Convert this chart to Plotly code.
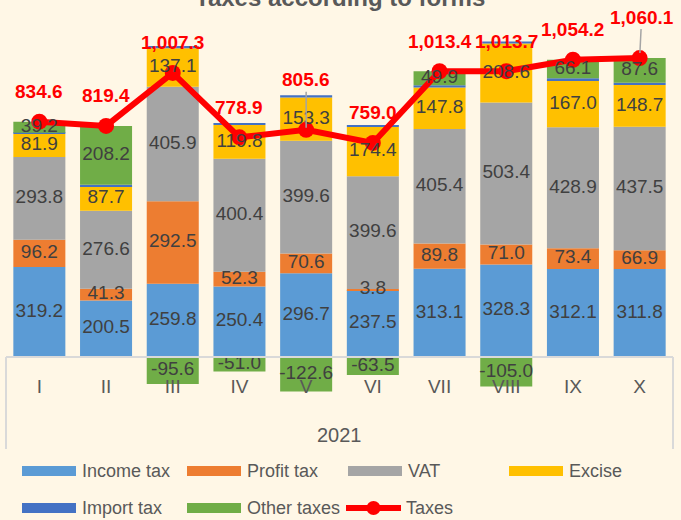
import plotly.graph_objects as go

months = ["I", "II", "III", "IV", "V", "VI", "VII", "VIII", "IX", "X"]
year = "2021"
income_tax = [319.2, 200.5, 259.8, 250.4, 296.7, 237.5, 313.1, 328.3, 312.1, 311.8]
profit_tax = [96.2, 41.3, 292.5, 52.3, 70.6, 3.8, 89.8, 71.0, 73.4, 66.9]
vat = [293.8, 276.6, 405.9, 400.4, 399.6, 399.6, 405.4, 503.4, 428.9, 437.5]
excise = [81.9, 87.7, 137.1, 119.8, 153.3, 174.4, 147.8, 208.6, 167.0, 148.7]
import_tax = [4.3, 5.1, 7.6, 7.0, 8.0, 7.2, 7.4, 7.4, 6.7, 7.6]
other_taxes = [39.2, 208.2, -95.6, -51.0, -122.6, -63.5, 49.9, -105.0, 66.1, 87.6]
taxes = [834.6, 819.4, 1007.3, 778.9, 805.6, 759.0, 1013.4, 1013.7, 1054.2, 1060.1]

BG = "#FFF7E6"
FONT = "Liberation Sans, Arial, sans-serif"
TXT = "#404040"
AXC = "#D9D9D9"

series = [
    ("Income tax", income_tax, "#5B9BD5", True),
    ("Profit tax", profit_tax, "#ED7D31", True),
    ("VAT", vat, "#A5A5A5", True),
    ("Excise", excise, "#FFC000", True),
    ("Import tax", import_tax, "#4472C4", False),
    ("Other taxes", other_taxes, "#70AD47", True),
]

fig = go.Figure()
for name, vals, col, lab in series:
    fig.add_trace(go.Bar(
        x=months, y=vals, name=name, marker=dict(color=col, line=dict(width=0)),
        showlegend=False, cliponaxis=False, hoverinfo="x+y+name",
    ))

fig.add_trace(go.Scatter(
    x=months, y=taxes, name="Taxes", mode="lines+markers",
    line=dict(color="#FF0000", width=6),
    marker=dict(color="#FF0000", size=16),
    showlegend=False, cliponaxis=False,
))

# segment labels (centred in each stacked segment, drawn above everything)
lab_x, lab_y, lab_t = [], [], []
pos_base = [0.0] * len(months)
neg_base = [0.0] * len(months)
for name, vals, col, lab in series:
    for i, v in enumerate(vals):
        if v >= 0:
            mid = pos_base[i] + v / 2
            pos_base[i] += v
        else:
            mid = neg_base[i] + v / 2
            neg_base[i] += v
        if lab:
            lab_x.append(months[i])
            lab_y.append(mid)
            lab_t.append(f"{v:.1f}")
fig.add_trace(go.Scatter(
    x=lab_x, y=lab_y, text=lab_t, mode="text", textposition="middle center",
    textfont=dict(family=FONT, size=19, color=TXT),
    showlegend=False, cliponaxis=False, hoverinfo="skip",
))

# plot-area geometry (pixels)
L, R, T, B = 6, 8, 10, 65
W, H = 681, 520
PW, PH = W - L - R, H - T - B
y_lo, y_hi = -347.5, 1230.5
zero_pos = -y_lo / (y_hi - y_lo)

def px_x(px):
    return (px - L) / PW

def px_y(py):
    return (H - B - py) / PH

annotations = []
# red total labels
for i, v in enumerate(taxes):
    base = dict(x=i, y=v, xref="x", yref="y", text=f"{v:,.1f}",
                font=dict(family=FONT, size=19, color="#FF0000", weight="bold"))
    if months[i] == "V":
        base.update(showarrow=True, arrowhead=0, arrowwidth=1.5, arrowcolor="#A5A5A5",
                    ax=0, ay=-50, standoff=2)
    elif months[i] == "X":
        base.update(showarrow=True, arrowhead=0, arrowwidth=1.5, arrowcolor="#A5A5A5",
                    ax=2, ay=-41, standoff=5)
    else:
        base.update(showarrow=False, yshift=30)
    annotations.append(base)

# year label under the month labels
annotations.append(dict(x=0.5, y=px_y(435), xref="paper", yref="paper", text=year,
                        showarrow=False, xanchor="center", yanchor="middle",
                        font=dict(family=FONT, size=20, color="#595959")))

# title (partly cut off at the top of the image)
annotations.append(dict(x=0.5, y=px_y(-3), xref="paper", yref="paper",
                        text="Taxes according to forms", showarrow=False,
                        xanchor="center", yanchor="middle",
                        font=dict(family=FONT, size=24, color="#595959", weight="bold")))

shapes = []
# category-axis group dividers (left and right edges)
for xp in (0, 1):
    shapes.append(dict(type="line", xref="paper", yref="paper",
                       x0=xp, x1=xp, y0=zero_pos, y1=px_y(449),
                       line=dict(color=AXC, width=2)))

# custom legend
legend_items = [
    ("Income tax", "#5B9BD5", 22, 471, "bar"),
    ("Profit tax", "#ED7D31", 187, 471, "bar"),
    ("VAT", "#A5A5A5", 348, 471, "bar"),
    ("Excise", "#FFC000", 509, 471, "bar"),
    ("Import tax", "#4472C4", 22, 508, "bar"),
    ("Other taxes", "#70AD47", 187, 508, "bar"),
    ("Taxes", "#FF0000", 346, 508, "line"),
]
for name, col, x0, yc, kind in legend_items:
    if kind == "bar":
        shapes.append(dict(type="rect", xref="paper", yref="paper",
                           x0=px_x(x0), x1=px_x(x0 + 54), y0=px_y(yc + 5), y1=px_y(yc - 5),
                           fillcolor=col, line=dict(width=0)))
    else:
        shapes.append(dict(type="line", xref="paper", yref="paper",
                           x0=px_x(x0), x1=px_x(x0 + 55), y0=px_y(yc), y1=px_y(yc),
                           line=dict(color=col, width=6)))
        shapes.append(dict(type="circle", xref="paper", yref="paper",
                           x0=px_x(x0 + 27.5 - 7), x1=px_x(x0 + 27.5 + 7),
                           y0=px_y(yc + 7), y1=px_y(yc - 7),
                           fillcolor=col, line=dict(width=0)))
    annotations.append(dict(x=px_x(x0 + 58), y=px_y(yc), xref="paper", yref="paper",
                            text=name, showarrow=False, xanchor="left", yanchor="middle",
                            font=dict(family=FONT, size=18, color="#595959")))

fig.update_layout(
    width=W, height=H,
    margin=dict(l=L, r=R, t=T, b=B, pad=0, autoexpand=False),
    paper_bgcolor=BG, plot_bgcolor=BG,
    barmode="relative", bargap=0.22,
    font=dict(family=FONT, size=19, color="#595959"),
    xaxis=dict(type="category", anchor="free", position=zero_pos,
               range=[-0.5, len(months) - 0.5], automargin=False,
               showline=True, linecolor=AXC, linewidth=2,
               ticks="", showgrid=False, zeroline=False,
               tickfont=dict(family=FONT, size=19, color="#595959"),
               ticklabelstandoff=12),
    yaxis=dict(range=[y_lo, y_hi], visible=False, showgrid=False, zeroline=False,
               automargin=False),
    annotations=annotations,
    shapes=shapes,
)

fig.write_html(
    "out.html",
    config={"displayModeBar": False},
    post_script="document.body.style.margin='0';document.body.style.padding='0';"
                "document.body.style.overflow='hidden';"
                "document.body.style.background='" + BG + "';",
)
